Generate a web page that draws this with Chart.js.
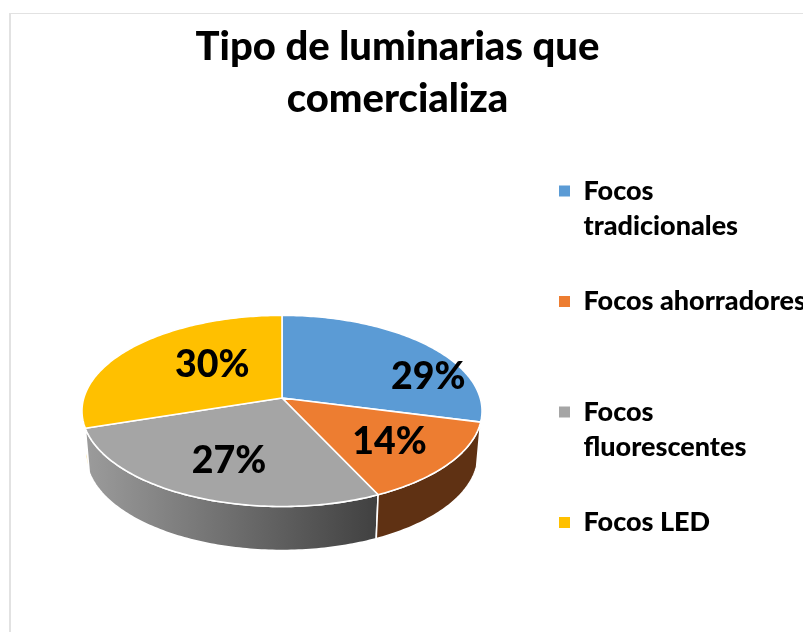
<!DOCTYPE html>
<html>
<head>
<meta charset="utf-8">
<style>html,body{margin:0;padding:0;background:#fff;overflow:hidden}canvas{display:block}</style>
<script src="https://cdn.jsdelivr.net/npm/chart.js@4"></script>
</head>
<body>
<canvas id="c" width="803" height="632"></canvas>
<script>
const titleLines = ["Tipo de luminarias que", "comercializa"];
const categories = ["Focos tradicionales", "Focos ahorradores", "Focos fluorescentes", "Focos LED"];
const legendLines = [["Focos", "tradicionales"], ["Focos ahorradores", ""], ["Focos", "fluorescentes"], ["Focos LED"]];
const values = [29, 14, 27, 30];
const topColors = ["#5B9BD5", "#ED7D31", "#A5A5A5", "#FFC000"];

const FONT = "Lato, Carlito, sans-serif";
const labelSpots = [[0.738, -0.106], [0.543, 0.224], [-0.268, 0.318], [-0.352, -0.169]];
const tilt = 0.4734, persp = 0.135, depth = 44, bottomScale = 0.98;

function project(a, t, z) {
  const R = a.outerRadius;
  const X = Math.sin(t), Y = -Math.cos(t), w = 1 - persp * Y, s = z ? bottomScale : 1;
  return [a.x + R * X / w * s, a.y + R * tilt * Y / w + (z ? depth : 0)];
}
function rim(ctx, a, t0, t1, z, first) {
  const n = Math.max(8, Math.ceil(Math.abs(t1 - t0) * 60));
  for (let i = 0; i <= n; i++) {
    const p = project(a, t0 + (t1 - t0) * i / n, z);
    if (i === 0 && first) ctx.moveTo(p[0], p[1]); else ctx.lineTo(p[0], p[1]);
  }
}
function sideFill(ctx, i, a) {
  if (i === 0) return null;
  if (i === 1) return "#5F3113";
  if (i === 3) return "#F0B400";
  const g = ctx.createLinearGradient(a.x - a.outerRadius, 0, a.x + 0.49 * a.outerRadius, 0);
  g.addColorStop(0, "#9C9C9C");
  g.addColorStop(1, "#404040");
  return g;
}

const tiltedPie = {
  id: "tiltedPie",
  beforeDraw(chart) {
    const c = chart.ctx;
    c.save();
    c.fillStyle = "#E2E2E2";
    c.fillRect(9, 13, 2, 619);
    c.fillRect(9, 13, 794, 1);
    c.restore();
  },
  afterLayout(chart) {
    Object.assign(chart.chartArea, { left: 83, right: 481, top: 199, bottom: 597, width: 398, height: 398 });
    const l = chart.legend;
    l.left = 519.5; l.right = 1000; l.top = 138; l.bottom = 900;
  },
  beforeDatasetsDraw(chart) {
    const c = chart.ctx, arcs = chart.getDatasetMeta(0).data;
    const off = Math.PI / 2;
    c.save();
    c.lineJoin = "round";
    [3, 0, 2, 1].forEach(i => {
      const a = arcs[i], f = sideFill(c, i, a);
      if (!f) return;
      const t0 = a.startAngle + off, t1 = a.endAngle + off;
      c.beginPath();
      rim(c, a, t0, t1, false, true);
      rim(c, a, t1, t0, true, false);
      c.closePath();
      c.fillStyle = f;
      c.fill();
      c.strokeStyle = a.options.borderColor;
      c.lineWidth = a.options.borderWidth;
      c.stroke();
    });
    arcs.forEach(a => {
      const t0 = a.startAngle + off, t1 = a.endAngle + off;
      c.beginPath();
      c.moveTo(a.x, a.y);
      rim(c, a, t0, t1, false, false);
      c.closePath();
      c.fillStyle = a.options.backgroundColor;
      c.fill();
      c.strokeStyle = a.options.borderColor;
      c.lineWidth = a.options.borderWidth;
      c.stroke();
    });
    const total = values.reduce((s, v) => s + v, 0);
    c.fillStyle = "#000";
    c.font = "900 37.5px " + FONT;
    c.textAlign = "center";
    c.textBaseline = "middle";
    arcs.forEach((a, i) => {
      c.fillText(Math.round(values[i] / total * 100) + "%",
        a.x + labelSpots[i][0] * a.outerRadius, a.y + labelSpots[i][1] * a.outerRadius);
    });
    c.restore();
    return false;
  }
};

new Chart(document.getElementById("c"), {
  type: "pie",
  data: {
    labels: categories,
    datasets: [{ data: values, backgroundColor: topColors, borderColor: "#FFFFFF", borderWidth: 1.6 }]
  },
  plugins: [tiltedPie],
  options: {
    responsive: false,
    animation: false,
    layout: { padding: { left: 0, right: 8, top: 21.5 } },
    plugins: {
      tooltip: { enabled: false },
      title: {
        display: true,
        text: titleLines,
        color: "#000",
        font: { family: FONT, size: 40, weight: "900", lineHeight: 1.3 },
        padding: { top: 0, bottom: 0 }
      },
      legend: {
        position: "right",
        align: "start",
        labels: {
          color: "#000",
          boxWidth: 11,
          boxHeight: 11,
          padding: 39.5,
          font: { family: FONT, size: 27, weight: "900", lineHeight: 1.315 },
          generateLabels: () => legendLines.map((t, i) => ({
            text: t, fillStyle: topColors[i], strokeStyle: topColors[i], lineWidth: 0, hidden: false, index: i
          }))
        }
      }
    }
  }
});
</script>
</body>
</html>
